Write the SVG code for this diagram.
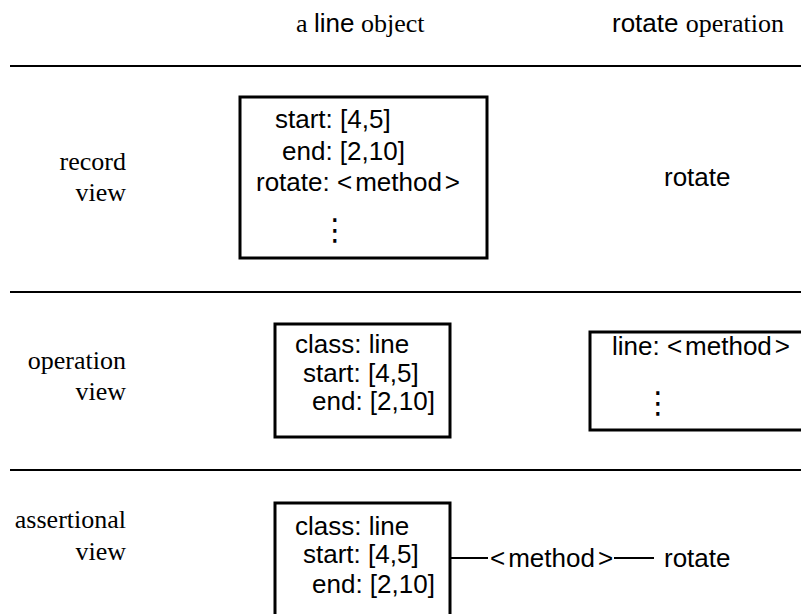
<svg xmlns="http://www.w3.org/2000/svg" width="801" height="614" viewBox="0 0 801 614">
<style>
.s{font-family:"Liberation Sans",Arial,sans-serif;font-size:26px;fill:#000}
.r{font-family:"Liberation Serif","Times New Roman",serif;font-size:26px;fill:#000}
.box{fill:#fff;stroke:#000;stroke-width:3}
.rule{stroke:#000;stroke-width:2}
.conn{stroke:#000;stroke-width:2}
.dots{font-family:"DejaVu Sans",sans-serif;font-size:30px;fill:#000}
</style>
<rect width="801" height="614" fill="#fff"/>
<g id="header">
<text x="296" y="32" class="r">a <tspan class="s">line</tspan> object</text>
<text x="612" y="32" class="s">rotate <tspan class="r">operation</tspan></text>
</g>
<g id="rules">
<line x1="10" y1="66" x2="801" y2="66" class="rule"/>
<line x1="10" y1="292" x2="801" y2="292" class="rule"/>
<line x1="10" y1="470" x2="801" y2="470" class="rule"/>
</g>
<g id="labels">
<text x="126" y="170" class="r" text-anchor="end">record</text>
<text x="126" y="201" class="r" text-anchor="end">view</text>
<text x="126" y="369" class="r" text-anchor="end">operation</text>
<text x="126" y="400" class="r" text-anchor="end">view</text>
<text x="126" y="528" class="r" text-anchor="end">assertional</text>
<text x="126" y="560" class="r" text-anchor="end">view</text>
</g>
<g id="record-object">
<rect x="240" y="97" width="247" height="161" class="box"/>
<text x="275" y="128" class="s">start: [4,5]</text>
<text x="282" y="160" class="s">end: [2,10]</text>
<text x="256" y="191" class="s">rotate: &lt;<tspan dx="3">method</tspan><tspan dx="3">&gt;</tspan></text>
<text x="335" y="240" class="dots" text-anchor="middle">⋮</text>
</g>
<g id="record-rotate">
<text x="664" y="186" class="s">rotate</text>
</g>
<g id="operation-object">
<rect x="275" y="324" width="175" height="113" class="box"/>
<text x="295" y="353" class="s">class: line</text>
<text x="303" y="382" class="s">start: [4,5]</text>
<text x="312" y="410" class="s">end: [2,10]</text>
</g>
<g id="operation-rotate">
<rect x="590" y="332" width="215" height="98" class="box"/>
<text x="612" y="355" class="s">line: &lt;<tspan dx="3">method</tspan><tspan dx="3">&gt;</tspan></text>
<text x="658" y="413" class="dots" text-anchor="middle">⋮</text>
</g>
<g id="assertional-object">
<rect x="275" y="503" width="175" height="120" class="box"/>
<text x="295" y="535" class="s">class: line</text>
<text x="303" y="563" class="s">start: [4,5]</text>
<text x="312" y="593" class="s">end: [2,10]</text>
</g>
<g id="assertional-rotate">
<text x="664" y="567" class="s">rotate</text>
</g>
<g id="connectors">
<line x1="450" y1="558" x2="488" y2="558" class="conn"/>
<text x="490" y="567" class="s">&lt;<tspan dx="3">method</tspan><tspan dx="3">&gt;</tspan></text>
<line x1="614" y1="558" x2="654" y2="558" class="conn"/>
</g>
</svg>
